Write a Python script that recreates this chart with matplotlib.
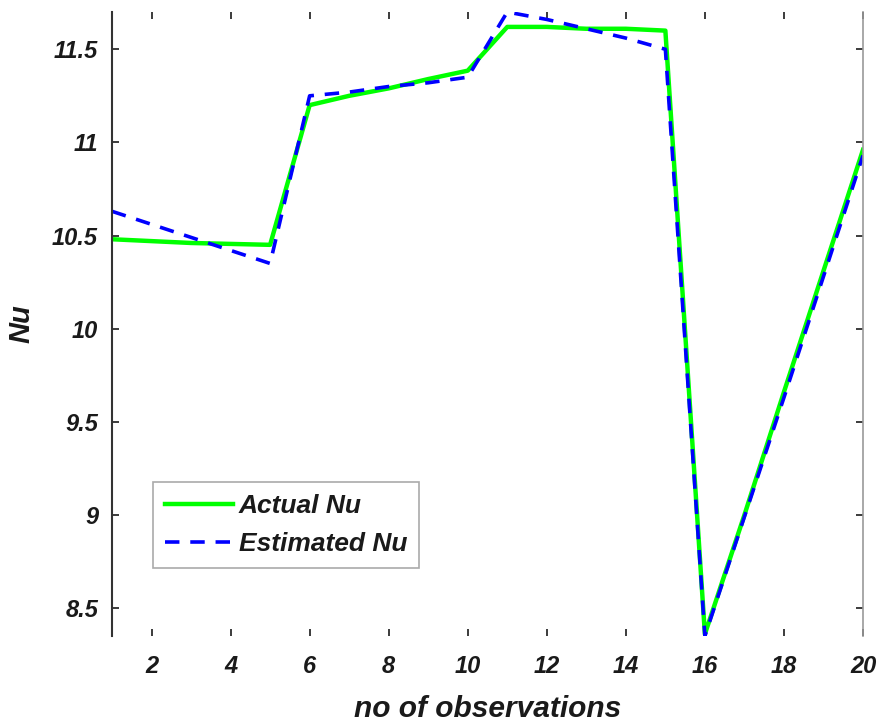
import matplotlib.pyplot as plt

obs = list(range(1, 21))
actual_nu = [10.48, 10.47, 10.46, 10.455, 10.45, 11.2, 11.25, 11.29, 11.34, 11.385,
             11.62, 11.62, 11.61, 11.61, 11.6, 8.36, 9.0, 9.66, 10.31, 10.96]
estimated_nu = [10.63, 10.56, 10.49, 10.42, 10.35, 11.25, 11.27, 11.3, 11.32, 11.35,
                11.70, 11.66, 11.61, 11.56, 11.5, 8.35, 8.99, 9.63, 10.28, 10.93]

plt.rcParams['font.family'] = ['Liberation Sans', 'DejaVu Sans']

fig = plt.figure(figsize=(8.84, 7.23), dpi=100)
ax = fig.add_axes([112 / 884, 1 - 636 / 723, 751 / 884, 624 / 723])

ax.plot(obs, actual_nu, color='#00ff00', linewidth=3.2, label='Actual Nu')
ax.plot(obs, estimated_nu, color='#0000ff', linewidth=2.6, linestyle=(0, (4, 3)),
        label='Estimated Nu')

ax.set_xlim(1, 20)
ax.set_ylim(8.35, 11.70)
ax.set_xticks(range(2, 21, 2))
ax.set_yticks([8.5, 9, 9.5, 10, 10.5, 11, 11.5])
ax.set_yticklabels(['8.5', '9', '9.5', '10', '10.5', '11', '11.5'])

ax.tick_params(direction='in', length=5, width=1.2, labelsize=17, colors='#1a1a1a',
               top=True, right=True)
ax.tick_params(axis='x', pad=14)
ax.tick_params(axis='y', pad=10)
for lbl in ax.get_xticklabels() + ax.get_yticklabels():
    lbl.set_fontstyle('italic')
    lbl.set_fontweight('bold')

ax.spines['top'].set_visible(False)
ax.spines['bottom'].set_visible(False)
ax.spines['left'].set_color('#333333')
ax.spines['left'].set_linewidth(1.5)
ax.spines['right'].set_color('#999999')
ax.spines['right'].set_linewidth(1.2)

ax.set_xlabel('no of observations', fontsize=21.5, fontstyle='italic', fontweight='bold',
              color='#1a1a1a', labelpad=12)
ax.set_ylabel('Nu', fontsize=21, fontstyle='italic', fontweight='bold',
              color='#1a1a1a', labelpad=12)

leg = ax.legend(loc='upper left', bbox_to_anchor=(0.0546, 0.2468), fancybox=False,
                framealpha=1, edgecolor='#aaaaaa', handlelength=2.6,
                prop={'size': 19, 'style': 'italic', 'weight': 'bold'}, borderpad=0.45,
                labelspacing=0.55, handletextpad=0.2, borderaxespad=0)
leg.get_frame().set_linewidth(1.2)
for txt in leg.get_texts():
    txt.set_color('#1a1a1a')

fig.savefig('out.png', dpi=100)
